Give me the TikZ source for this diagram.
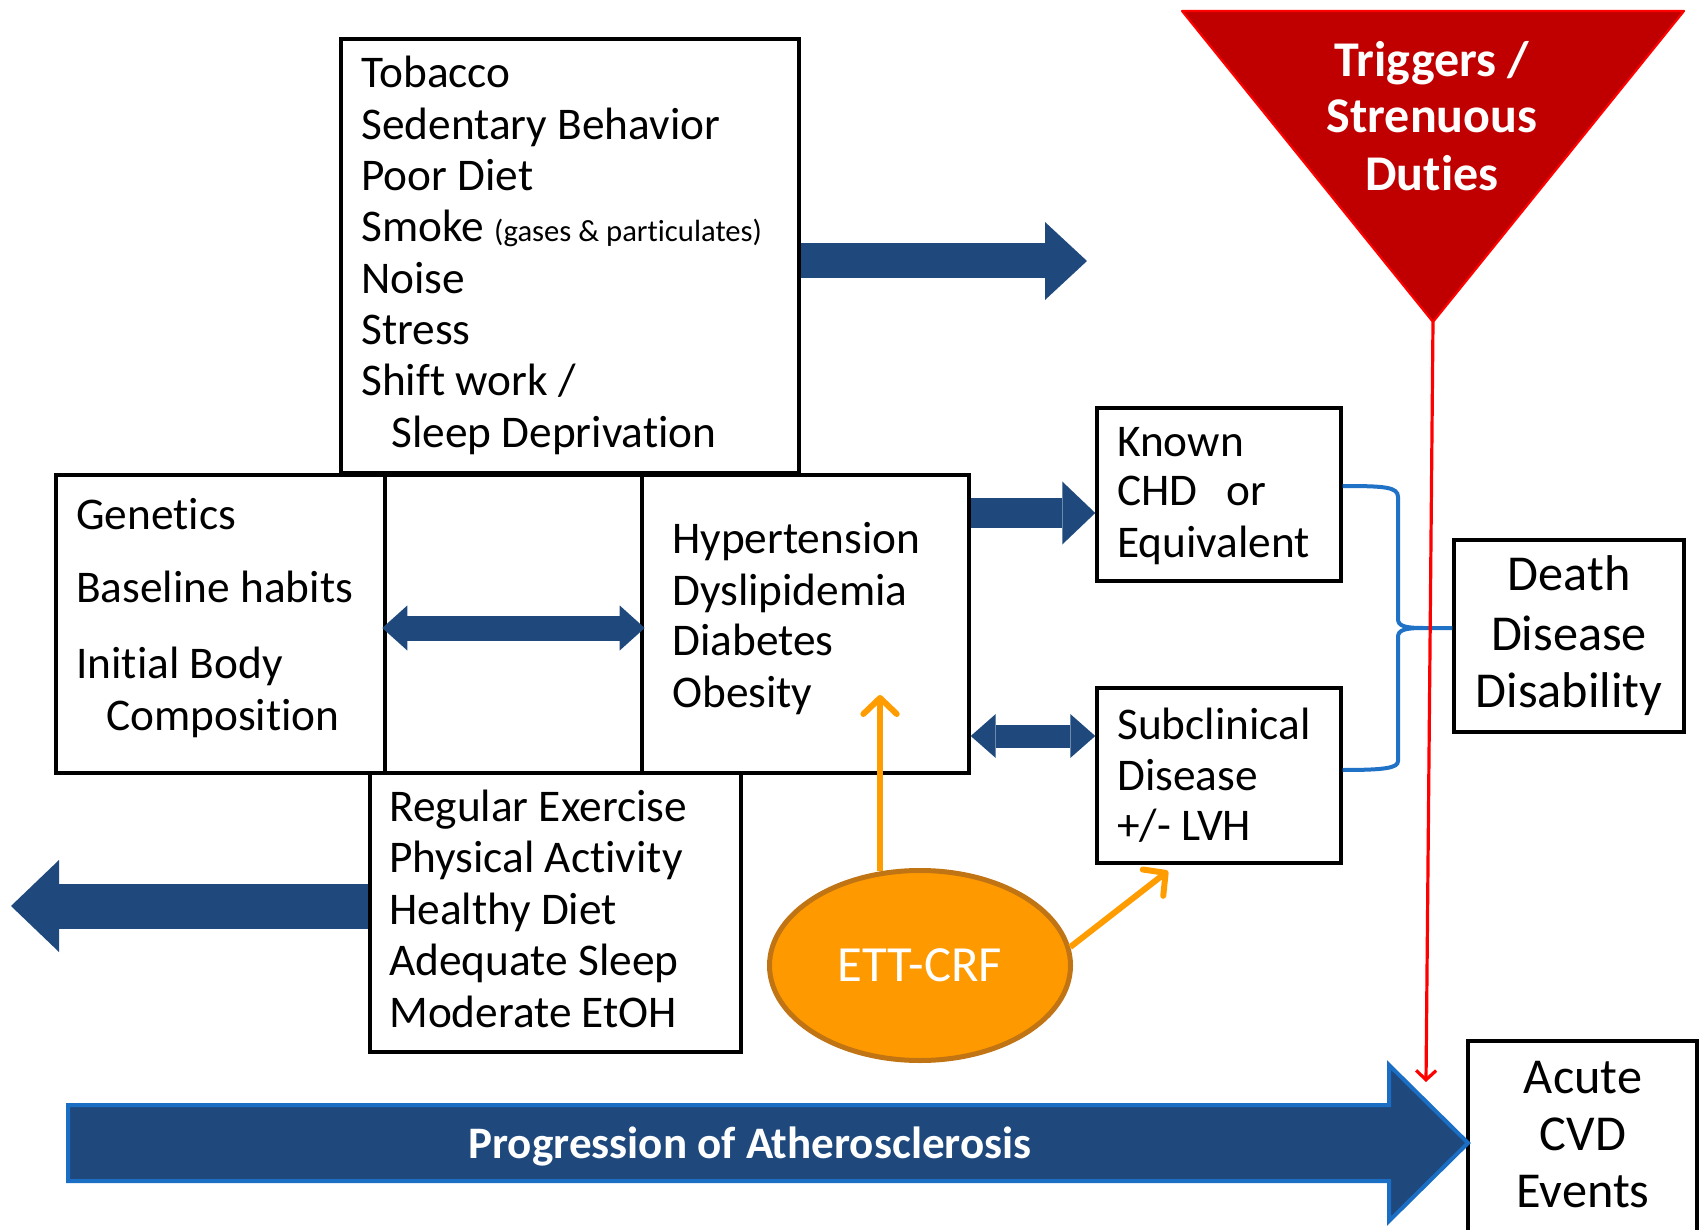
\documentclass[tikz,border=0pt]{standalone}
\usepackage{fontspec}
\setmainfont{Carlito}[Ligatures=NoCommon]
\usetikzlibrary{arrows.meta,shapes.geometric,fit,calc}
\definecolor{dkblue}{HTML}{1F497D}
\definecolor{progedge}{HTML}{1A6FC4}
\definecolor{brace}{HTML}{1F72C6}
\definecolor{trired}{HTML}{C00000}
\definecolor{tririm}{HTML}{FF0000}
\definecolor{ettfill}{HTML}{FF9900}
\definecolor{ettrim}{HTML}{C07414}
\definecolor{ettarrow}{HTML}{FF9C00}
\begin{document}
\begin{tikzpicture}[x=0.75pt,y=-0.75pt,
  box/.style={draw=black,line width=2.6pt,inner sep=0pt},
  txt/.style={inner sep=0pt,anchor=base west,font=\fontsize{34}{39}\selectfont},
  bigtxt/.style={inner sep=0pt,anchor=base,font=\fontsize{37.7}{43}\selectfont},
  trigtxt/.style={inner sep=0pt,anchor=base,text=white,font=\fontsize{37.5}{43}\selectfont\bfseries},
  fatR/.style={draw=dkblue,line width=#1},
  orangearrow/.style={draw=ettarrow,line width=4.5pt,-{Straight Barb[width=25pt,length=12pt,round]}},
  redarrow/.style={draw=tririm,line width=2.4pt,-{Straight Barb[width=15pt,length=7pt]}},
  bracestyle/.style={draw=brace,line width=3pt}
]
\useasboundingbox (0,0) rectangle (1700,1230);

% ---------- boxes ----------
\node[box,fit={(341,39)(799,473)}] (tob) {};
\node[box,fit={(56,475)(385,773)}] (gen) {};
\node[box,fit={(385,475)(642,773)}] (mid) {};
\node[box,fit={(642,475)(969,773)}] (hyp) {};
\node[box,fit={(370,773)(741,1052)}] (reg) {};
\node[box,fit={(1097,408)(1341,581)}] (known) {};
\node[box,fit={(1097,688)(1341,863)}] (sub) {};
\node[box,fit={(1454,540)(1684,732)}] (death) {};
\node[box,fit={(1468,1041)(1697,1240)}] (acute) {};

% ---------- texts ----------
\node[txt] (t1) at (361,88) {Tobacco};
\node[txt] (t2) at (361,139.5) {Sedentary Behavior};
\node[txt] (t3) at (361,191) {Poor Diet};
\node[txt] (t4) at (361,242) {Smoke {\fontsize{23}{27}\selectfont(gases \& particulates)}};
\node[txt] (t5) at (361,294) {Noise};
\node[txt] (t6) at (361,345) {Stress};
\node[txt] (t7) at (361,396) {Shift work /};
\node[txt] (t8) at (391,448) {Sleep Deprivation};

\node[txt] (g1) at (76,529) {Genetics};
\node[txt] (g2) at (76,602) {Baseline habits};
\node[txt] (g3) at (76,678) {Initial Body};
\node[txt] (g4) at (106,730) {Composition};

\node[txt] (h1) at (672,553) {Hypertension};
\node[txt] (h2) at (672,605) {Dyslipidemia};
\node[txt] (h3) at (672,655) {Diabetes};
\node[txt] (h4) at (672,707) {Obesity};

\node[txt] (r1) at (389,821) {Regular Exercise};
\node[txt] (r2) at (389,872.5) {Physical Activity};
\node[txt] (r3) at (389,924) {Healthy Diet};
\node[txt] (r4) at (389,975.5) {Adequate Sleep};
\node[txt] (r5) at (389,1027) {Moderate EtOH};

\node[txt] (k1) at (1117,457) {Known};
\node[txt] (k2) at (1117,506) {CHD\hspace{22pt}or};
\node[txt] (k3) at (1117,557) {Equivalent};

\node[txt] (s1) at (1117,739) {Subclinical};
\node[txt] (s2) at (1117,790) {Disease};
\node[txt] (s3) at (1117,840) {+/- LVH};

\node[bigtxt] (d1) at (1569,590) {Death};
\node[bigtxt] (d2) at (1569,650) {Disease};
\node[bigtxt] (d3) at (1569,707) {Disability};

\node[bigtxt] (a1) at (1583,1093) {Acute};
\node[bigtxt] (a2) at (1583,1150) {CVD};
\node[bigtxt] (a3) at (1583,1207) {Events};

% ---------- triangle ----------
\coordinate (triL) at (1182,11);
\coordinate (triR) at (1684,11);
\coordinate (tritip) at (1433,322);
\filldraw[fill=trired,draw=tririm,line width=1.6pt,line join=round] (triL) -- (triR) -- (tritip) -- cycle;
\node[trigtxt] (tr1) at (1432,77) {Triggers /};
\node[trigtxt] (tr2) at (1432,133) {Strenuous};
\node[trigtxt] (tr3) at (1432,191) {Duties};

% ---------- fat dark-blue arrows ----------
\coordinate (toptip) at (1087,261);
\draw[fatR=26.25pt,-{Triangle[width=58.5pt,length=31.5pt,line width=0pt]}]
  ($(tob.east)+(0,5)$) -- (toptip);

\coordinate (kin) at ($(known.west)+(0,18.5)$);
\draw[fatR=22.5pt,-{Triangle[width=47.25pt,length=24.75pt,line width=0pt]}]
  (hyp.east |- kin) -- (kin);

\coordinate (sin) at ($(sub.west)+(0,-39.5)$);
\draw[fatR=17.25pt,{Triangle[width=33pt,length=18.75pt,line width=0pt]}-{Triangle[width=33pt,length=18.75pt,line width=0pt]}]
  (hyp.east |- sin) -- (sin);

\coordinate (mwest) at ($(mid.west)+(-1,4)$);
\coordinate (meast) at ($(mid.east)+(1,4)$);
\draw[fatR=18.75pt,{Triangle[width=33.75pt,length=18.75pt,line width=0pt]}-{Triangle[width=33.75pt,length=18.75pt,line width=0pt]}]
  (mwest) -- (meast);

\coordinate (lefttip) at (11,906);
\draw[fatR=33.75pt,-{Triangle[width=69pt,length=36pt,line width=0pt]}]
  ($(reg.west)+(0,-6.5)$) -- (lefttip);

% ---------- progression arrow ----------
\coordinate (progtip) at (1468,1143);
\filldraw[fill=dkblue,draw=progedge,line width=3pt,line join=miter]
  ($(progtip)+(-1400,-38)$) -- ($(progtip)+(-79,-38)$) -- ($(progtip)+(-79,-78)$)
  -- (progtip) -- ($(progtip)+(-79,78)$) -- ($(progtip)+(-79,38)$)
  -- ($(progtip)+(-1400,38)$) -- cycle;
\node[inner sep=0pt,anchor=base,text=white,font=\fontsize{33.8}{40}\selectfont\bfseries] (prog) at (750,1158) {Progression of Atherosclerosis};

% ---------- brace ----------
\coordinate (bj) at (1423,628);
\draw[bracestyle] ($(known.east)+(0,-8.5)$) .. controls (1385,486) and (1398,487) .. (1398,497)
  -- (1398,619) .. controls (1398,626) and (1405,628) .. (bj) -- ($(death.west)+(0,-8)$);
\draw[bracestyle] (bj) .. controls (1405,628) and (1398,630) .. (1398,637)
  -- (1398,761) .. controls (1398,768) and (1385,770) .. ($(sub.east)+(0,-5.5)$);

% ---------- red trigger line ----------
\coordinate (redend) at (1426,1082);
\draw[redarrow] (tritip) -- (redend);

% ---------- ETT-CRF ----------
\node[ellipse,draw=ettrim,fill=ettfill,line width=3.75pt,inner sep=0pt,
      minimum width=225.75pt,minimum height=142.5pt,text=white,
      font=\fontsize{38}{44}\selectfont] (ett) at (920,965.5) {ETT-CRF};
\coordinate (ettA) at (881,695);
\coordinate (ettB) at (1168,871);
\draw[orangearrow] (ett.113) -- (ett.113 |- ettA);
\draw[orangearrow] (ett.7) -- (ettB);

\end{tikzpicture}
\end{document}
